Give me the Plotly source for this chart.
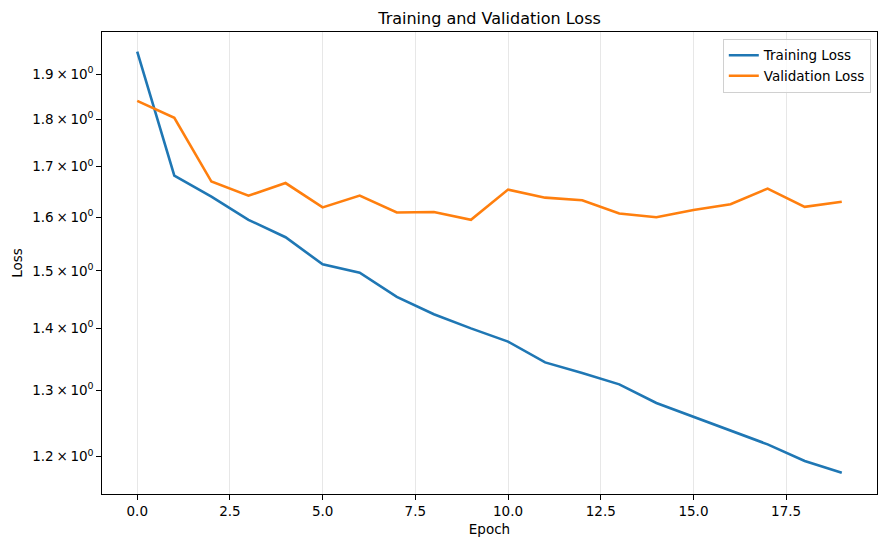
import numpy as np
import plotly.graph_objects as go

epochs = list(range(20))
train_loss = [1.952, 1.682, 1.640, 1.595, 1.562, 1.512, 1.497, 1.454, 1.424, 1.400,
              1.378, 1.344, 1.327, 1.309, 1.280, 1.259, 1.239, 1.218, 1.194, 1.177]
val_loss = [1.840, 1.803, 1.670, 1.642, 1.667, 1.619, 1.642, 1.609, 1.610, 1.595,
            1.654, 1.638, 1.633, 1.607, 1.600, 1.614, 1.625, 1.656, 1.620, 1.630]

y_tick_vals = [1.2, 1.3, 1.4, 1.5, 1.6, 1.7, 1.8, 1.9]
y_tick_text = [f"{v:.1f}\u2009×\u200910<sup>0</sup>" for v in y_tick_vals]
x_tick_vals = [0, 2.5, 5, 7.5, 10, 12.5, 15, 17.5]
x_tick_text = ["0.0", "2.5", "5.0", "7.5", "10.0", "12.5", "15.0", "17.5"]

FONT = "DejaVu Sans"

fig = go.Figure()
fig.add_trace(go.Scatter(x=epochs, y=train_loss, mode="lines", name="Training Loss",
                         line=dict(color="#1f77b4", width=2.6)))
fig.add_trace(go.Scatter(x=epochs, y=val_loss, mode="lines", name="Validation Loss",
                         line=dict(color="#ff7f0e", width=2.6)))

fig.update_layout(
    width=886, height=547,
    margin=dict(l=101.5, r=9.3, t=32.3, b=53, autoexpand=False),
    paper_bgcolor="white", plot_bgcolor="white",
    font=dict(family=FONT, size=13, color="black"),
    title=dict(text="Training and Validation Loss", x=0.5, xref="paper", xanchor="center",
               y=1, yref="paper", yanchor="bottom", pad=dict(b=8), automargin=False,
               font=dict(family=FONT, size=16, color="black")),
    showlegend=True,
    legend=dict(x=0.992, y=0.985, xanchor="right", yanchor="top",
                bgcolor="rgba(255,255,255,0.8)", bordercolor="#d0d0d0", borderwidth=1,
                font=dict(family=FONT, size=13.5, color="black"),
                tracegroupgap=0, itemwidth=30),
)

fig.update_xaxes(
    range=[-0.95, 19.95], tickvals=x_tick_vals, ticktext=x_tick_text,
    showgrid=True, gridcolor="rgba(176,176,176,0.3)", gridwidth=1,
    showline=True, linecolor="black", linewidth=1, mirror=True,
    ticks="outside", ticklen=4.7, tickcolor="black", tickwidth=1,
    zeroline=False, automargin=False,
    title=dict(text="Epoch", font=dict(family=FONT, size=13.5, color="black"), standoff=6),
    tickfont=dict(family=FONT, size=13.5, color="black"),
)
fig.update_yaxes(
    type="log", range=[0.05975, 0.30072],
    tickvals=y_tick_vals, ticktext=y_tick_text,
    showgrid=False,
    showline=True, linecolor="black", linewidth=1, mirror=True,
    ticks="outside", ticklen=4.7, tickcolor="black", tickwidth=1,
    zeroline=False, automargin=False,
    title=dict(text="Loss", font=dict(family=FONT, size=13.5, color="black"), standoff=6),
    tickfont=dict(family=FONT, size=13.5, color="black"),
)

fig.write_html("out.html", config={"displayModeBar": False},
               post_script="document.body.style.margin='0';document.body.style.overflow='hidden';")
